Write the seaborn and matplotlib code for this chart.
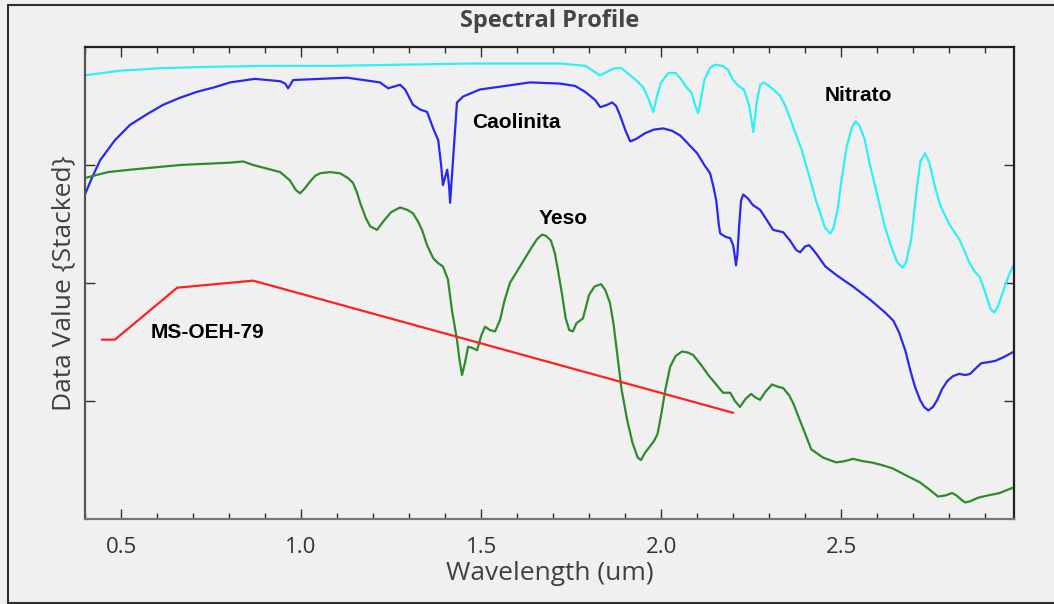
import matplotlib
matplotlib.use("Agg")
import matplotlib.pyplot as plt
import seaborn as sns
from matplotlib.lines import Line2D
from matplotlib.ticker import MultipleLocator, NullFormatter

# spectra (wavelength in um, stacked value)
nitrato_wl = [0.40, 0.50, 0.61, 0.72, 0.89, 1.08, 1.28, 1.47, 1.61, 1.72, 1.79, 1.81, 1.83, 1.85,
              1.87, 1.89, 1.91, 1.93, 1.95, 1.965, 1.978, 1.99, 2.00, 2.02, 2.04, 2.055, 2.07,
              2.085, 2.095, 2.103, 2.11, 2.12, 2.135, 2.15, 2.17, 2.185, 2.20, 2.215, 2.23, 2.245,
              2.256, 2.265, 2.275, 2.285, 2.30, 2.315, 2.33, 2.345, 2.36, 2.39, 2.41, 2.43, 2.455,
              2.469, 2.478, 2.49, 2.50, 2.515, 2.53, 2.54, 2.55, 2.565, 2.58, 2.60, 2.62, 2.64,
              2.655, 2.67, 2.68, 2.695, 2.71, 2.72, 2.733, 2.745, 2.76, 2.775, 2.80, 2.83, 2.855,
              2.87, 2.885, 2.90, 2.915, 2.925, 2.935, 2.95, 2.965, 2.98]
nitrato_val = [3.76, 3.80, 3.82, 3.83, 3.84, 3.84, 3.85, 3.86, 3.86, 3.86, 3.84, 3.80, 3.76, 3.79,
               3.82, 3.82, 3.77, 3.72, 3.66, 3.56, 3.45, 3.60, 3.70, 3.78, 3.78, 3.73, 3.66,
               3.61, 3.50, 3.44, 3.55, 3.72, 3.82, 3.85, 3.84, 3.81, 3.72, 3.67, 3.64, 3.50,
               3.28, 3.52, 3.68, 3.70, 3.67, 3.63, 3.59, 3.50, 3.38, 3.13, 2.92, 2.70, 2.47,
               2.42, 2.46, 2.62, 2.85, 3.15, 3.32, 3.37, 3.34, 3.22, 3.00, 2.75, 2.49, 2.30,
               2.18, 2.13, 2.17, 2.38, 2.80, 3.03, 3.10, 3.02, 2.82, 2.66, 2.50, 2.36, 2.18,
               2.10, 2.05, 1.92, 1.78, 1.75, 1.80, 1.93, 2.06, 2.16]

caolinita_wl = [0.400, 0.419, 0.442, 0.483, 0.525, 0.572, 0.617, 0.664, 0.711, 0.761, 0.803, 0.872,
                0.942, 0.956, 0.964, 0.978, 1.053, 1.128, 1.219, 1.242, 1.275, 1.289, 1.311, 1.331,
                1.350, 1.367, 1.381, 1.389, 1.394, 1.406, 1.411, 1.414, 1.422, 1.433, 1.450, 1.497,
                1.544, 1.636, 1.719, 1.761, 1.789, 1.817, 1.831, 1.85, 1.864, 1.875, 1.886, 1.90,
                1.914, 1.93, 1.956, 1.98, 2.006, 2.03, 2.053, 2.075, 2.10, 2.12, 2.136, 2.145,
                2.153, 2.16, 2.164, 2.18, 2.192, 2.200, 2.205, 2.208, 2.212, 2.217, 2.222, 2.228,
                2.24, 2.255, 2.275, 2.29, 2.311, 2.325, 2.339, 2.358, 2.375, 2.386, 2.40, 2.411,
                2.42, 2.433, 2.456, 2.49, 2.533, 2.58, 2.622, 2.645, 2.661, 2.67, 2.678, 2.692,
                2.705, 2.719, 2.73, 2.742, 2.755, 2.767, 2.78, 2.795, 2.81, 2.828, 2.845, 2.858,
                2.875, 2.889, 2.91, 2.928, 2.95, 2.981]
caolinita_val = [2.75, 2.89, 3.04, 3.21, 3.34, 3.43, 3.51, 3.57, 3.62, 3.66, 3.70, 3.73,
                 3.71, 3.69, 3.65, 3.72, 3.73, 3.74, 3.70, 3.65, 3.68, 3.64, 3.51, 3.47,
                 3.45, 3.31, 3.21, 3.00, 2.83, 2.96, 2.83, 2.68, 3.04, 3.53, 3.58, 3.64,
                 3.66, 3.70, 3.69, 3.67, 3.62, 3.55, 3.49, 3.51, 3.53, 3.50, 3.42, 3.30,
                 3.20, 3.22, 3.27, 3.30, 3.31, 3.29, 3.25, 3.18, 3.10, 3.00, 2.93, 2.82,
                 2.70, 2.50, 2.42, 2.39, 2.38, 2.32, 2.22, 2.15, 2.25, 2.50, 2.70, 2.75,
                 2.72, 2.66, 2.62, 2.55, 2.45, 2.44, 2.43, 2.36, 2.28, 2.26, 2.31, 2.32,
                 2.29, 2.24, 2.14, 2.06, 1.97, 1.86, 1.75, 1.68, 1.58, 1.50, 1.43, 1.26,
                 1.12, 1.01, 0.95, 0.92, 0.95, 1.01, 1.10, 1.17, 1.21, 1.23, 1.22, 1.23,
                 1.28, 1.32, 1.33, 1.34, 1.37, 1.42]

yeso_wl = [0.400, 0.464, 0.525, 0.664, 0.803, 0.839, 0.867, 0.942, 0.969, 0.985, 0.997, 1.01,
           1.025, 1.04, 1.053, 1.08, 1.108, 1.13, 1.144, 1.155, 1.164, 1.18, 1.192, 1.211,
           1.228, 1.25, 1.275, 1.295, 1.311, 1.325, 1.336, 1.35, 1.367, 1.38, 1.394, 1.408,
           1.419, 1.433, 1.44, 1.447, 1.455, 1.464, 1.475, 1.489, 1.50, 1.511, 1.525, 1.539,
           1.553, 1.565, 1.58, 1.60, 1.62, 1.64, 1.655, 1.669, 1.68, 1.694, 1.705, 1.714,
           1.725, 1.735, 1.745, 1.755, 1.765, 1.783, 1.80, 1.815, 1.833, 1.845, 1.858, 1.868,
           1.878, 1.89, 1.905, 1.92, 1.935, 1.944, 1.955, 1.965, 1.98, 1.99, 2.00, 2.012,
           2.025, 2.04, 2.058, 2.075, 2.089, 2.11, 2.131, 2.15, 2.172, 2.192, 2.205, 2.219,
           2.235, 2.25, 2.262, 2.275, 2.29, 2.308, 2.325, 2.339, 2.355, 2.367, 2.39, 2.417,
           2.45, 2.486, 2.51, 2.533, 2.56, 2.583, 2.61, 2.642, 2.68, 2.719, 2.745, 2.769,
           2.79, 2.808, 2.82, 2.835, 2.845, 2.858, 2.88, 2.908, 2.94, 2.981]
yeso_val = [2.89, 2.94, 2.96, 3.00, 3.02, 3.03, 3.00, 2.94, 2.87, 2.79, 2.76, 2.80,
            2.86, 2.91, 2.93, 2.94, 2.93, 2.89, 2.85, 2.77, 2.68, 2.55, 2.48, 2.45,
            2.52, 2.60, 2.64, 2.62, 2.59, 2.52, 2.45, 2.32, 2.21, 2.17, 2.14, 2.03,
            1.77, 1.52, 1.35, 1.22, 1.32, 1.46, 1.45, 1.43, 1.55, 1.63, 1.60, 1.59,
            1.69, 1.85, 2.00, 2.10, 2.20, 2.30, 2.37, 2.41, 2.40, 2.36, 2.25, 2.10,
            1.90, 1.70, 1.60, 1.59, 1.66, 1.70, 1.90, 1.97, 1.99, 1.94, 1.83, 1.65,
            1.40, 1.10, 0.85, 0.65, 0.52, 0.50, 0.56, 0.60, 0.66, 0.72, 0.88, 1.10,
            1.29, 1.38, 1.42, 1.41, 1.39, 1.31, 1.22, 1.15, 1.07, 1.07, 1.00, 0.95,
            1.02, 1.06, 1.03, 1.01, 1.08, 1.14, 1.12, 1.11, 1.05, 0.98, 0.80, 0.59,
            0.52, 0.48, 0.49, 0.51, 0.49, 0.48, 0.46, 0.43, 0.37, 0.31, 0.25, 0.19,
            0.20, 0.22, 0.20, 0.16, 0.14, 0.15, 0.18, 0.20, 0.22, 0.27]

ms_wl = [0.447, 0.483, 0.656, 0.867, 2.200]
ms_val = [1.52, 1.52, 1.96, 2.02, 0.90]

series = [
    (nitrato_wl, nitrato_val, "#30f0f0"),
    (caolinita_wl, caolinita_val, "#2828f0"),
    (yeso_wl, yeso_val, "#2c8c2c"),
    (ms_wl, ms_val, "#ff2020"),
]
labels = [("Nitrato", 2.547, 3.59), ("Caolinita", 1.597, 3.36),
          ("Yeso", 1.728, 2.55), ("MS-OEH-79", 0.739, 1.58)]

sns.set_style("white", {"axes.facecolor": "#f0f0f0", "figure.facecolor": "#f0f0f0"})
plt.rcParams["font.family"] = ["Open Sans", "DejaVu Sans"]

fig = plt.figure(figsize=(10.54, 6.04), dpi=100)
ax = fig.add_axes([85 / 1054, 85 / 604, 929 / 1054, 472 / 604])

for wl, val, col in series:
    sns.lineplot(x=wl, y=val, color=col, linewidth=1.6, sort=False, estimator=None, ax=ax)

for txt, x, y in labels:
    ax.text(x, y, txt, ha="center", va="center", fontsize=15, fontweight="bold",
            family="Liberation Sans", color="black")

ax.set_xlim(0.4, 2.98)
ax.set_ylim(0, 4)
ax.xaxis.set_major_locator(MultipleLocator(0.5))
ax.xaxis.set_minor_locator(MultipleLocator(0.1))
ax.set_yticks([1, 2, 3])
ax.yaxis.set_major_formatter(NullFormatter())
ax.tick_params(which="both", direction="in", top=True, right=True, left=True, bottom=True,
               colors="#303030", labelcolor="#333333", labelsize=16)
ax.tick_params(which="major", length=7, width=1, pad=13)
ax.tick_params(which="minor", length=4, width=1)
ax.set_xticks([0.5, 1.0, 1.5, 2.0, 2.5])
ax.set_xticklabels(["0.5", "1.0", "1.5", "2.0", "2.5"])
for side, col in [("left", "#555555"), ("bottom", "#777777"), ("top", "#202020"), ("right", "#202020")]:
    ax.spines[side].set_visible(True)
    ax.spines[side].set_color(col)
    ax.spines[side].set_linewidth(1.6)

ax.set_xlabel("Wavelength (um)", fontsize=19, color="#404040", labelpad=2)
ax.set_ylabel("Data Value {Stacked}", fontsize=19, color="#404040", labelpad=-7)
fig.text(550 / 1054, 1 - 21 / 604, "Spectral Profile", ha="center", va="center",
         fontsize=17, fontweight="bold", color="#454545")

# outer frame of the panel
for xs, ys in [([8, 8], [5, 603]), ([8, 1054], [5, 5]), ([8, 1054], [603, 603])]:
    fig.add_artist(Line2D([x / 1054 for x in xs], [1 - y / 604 for y in ys],
                          color="#303030", linewidth=1.5))

fig.savefig("out.png", dpi=100, facecolor=fig.get_facecolor())
